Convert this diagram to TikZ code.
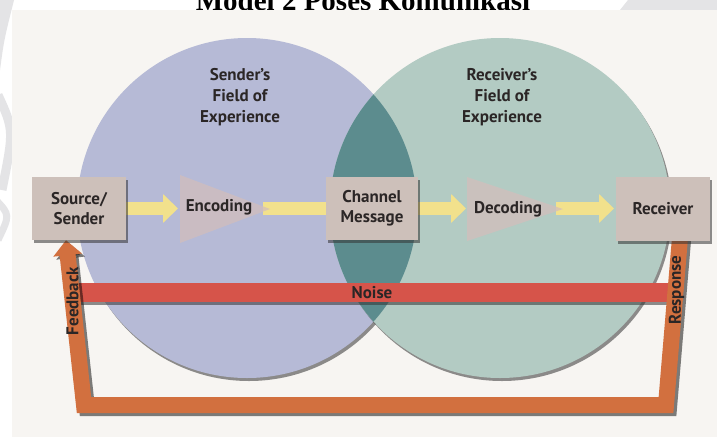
\documentclass[tikz,border=0pt]{standalone}
\usepackage{fontspec}
\setmainfont{PT Sans}
\newfontfamily\titlefont{Liberation Serif}
\usetikzlibrary{shadows,arrows.meta,calc}
\pgfdeclarelayer{fg}
\pgfsetlayers{main,fg}
\definecolor{pagebg}{HTML}{F7F5F2}
\definecolor{wmgray}{HTML}{E4E4E6}
\definecolor{lav}{HTML}{B6BAD6}
\definecolor{sage}{HTML}{B3CBC3}
\definecolor{lens}{HTML}{5C8C8E}
\definecolor{boxc}{HTML}{CDC0BA}
\definecolor{tric}{HTML}{D2BEBC}
\definecolor{yel}{HTML}{F2E18C}
\definecolor{noisered}{HTML}{D6544A}
\definecolor{loopor}{HTML}{D2703F}
\definecolor{txt}{HTML}{2B2626}
\tikzset{
  shad/.style={drop shadow={shadow xshift=2pt,shadow yshift=-3pt,opacity=.55,fill=black!80}},
  field/.style={circle,draw=none,inner sep=0pt,minimum size=340pt,shad},
  fieldtxt/.style={align=center,text=txt,font=\bfseries\fontsize{17}{21}\selectfont},
  box/.style={draw=none,fill=boxc,inner sep=0pt,align=center,text=txt,
    font=\bfseries\fontsize{17}{20}\selectfont,shad},
  lbl/.style={text=txt,font=\bfseries\fontsize{17}{20}\selectfont,inner sep=0pt},
  tri/.style={fill=tric,fill opacity=.75,draw=none},
  yarr/.style={draw=yel,line width=13pt},
  ytip/.style={-{Triangle[length=15pt,width=28pt]}},
  noisebar/.style={fill=noisered,draw=none,inner sep=0pt,shad},
  loopline/.style={draw=loopor,line width=16pt,line join=miter,
    -{Triangle[length=15pt,width=28pt]}},
  loopshadow/.style={draw=black,opacity=.5,line width=16pt,line join=miter,
    -{Triangle[length=15pt,width=28pt]}}
}
\begin{document}
\begin{tikzpicture}[x=1pt,y=-1pt]
\useasboundingbox (0,0) rectangle (717,437);
\clip (0,0) rectangle (717,437);
\fill[white] (0,0) rectangle (717,437);
% watermark remnants
\fill[wmgray] (628,0) -- (717,0) -- (717,10) -- (620,10) -- cycle;
\fill[wmgray] (0,0) -- (14,0) .. controls (4,40) .. (0,70) -- cycle;
\draw[wmgray,line width=9pt] (-2,95) .. controls (14,130) .. (2,190);
\draw[wmgray,line width=7pt] (-4,200) .. controls (10,215) .. (-2,240);
% title (cut off at top)
\node[anchor=base,inner sep=0pt,font=\titlefont\bfseries\fontsize{29}{30}\selectfont] (title) at (363,10) {Model 2 Poses Komunikasi};
% page
\fill[pagebg] (12,10) rectangle (717,437);
% fields
\node[field,fill=lav] (sfield) at (247,208) {};
\node[field,fill=sage] (rfield) at (500,208) {};
\begin{scope}
  \clip (sfield.center) circle (170);
  \fill[lens] (rfield.center) circle (170);
\end{scope}
\node[fieldtxt] (stxt) at (240,97) {Sender’s\\Field of\\Experience};
\node[fieldtxt] (rtxt) at (502,97) {Receiver’s\\Field of\\Experience};
% noise
\node[noisebar,minimum width=590pt,minimum height=19pt] (noise) at (374,292.5) {};
\node[lbl] (noisetxt) at (372,293) {Noise};
% boxes on the foreground layer
\begin{pgfonlayer}{fg}
\node[box,minimum width=94pt,minimum height=63pt] (src) at (79,208.5) {Source/\\Sender};
\node[box,minimum width=92pt,minimum height=63pt] (chan) at (372,208.5) {Channel\\Message};
\node[box,minimum width=94pt,minimum height=64pt] (rcv) at (663,208.5) {Receiver};
\end{pgfonlayer}
% feedback loop
\coordinate (rb) at (666,405);
\coordinate (lb) at (84,405);
\coordinate (rtop) at ([xshift=18pt,yshift=15pt]rcv.south);
\coordinate (ltip) at ([xshift=-13pt]src.south);
\draw[loopshadow,transform canvas={shift={(3pt,-3pt)}}] (rtop) -- (rb) -- (lb) -- (ltip);
\draw[loopline] (rtop) -- (rb) -- (lb) -- (ltip);
\node[lbl,rotate=90] (fb) at (72.5,301) {Feedback};
\node[lbl,rotate=90] (resp) at (676.5,290) {Response};
% yellow arrows
\coordinate (encL) at (178,208.5);
\coordinate (encR) at (263,208.5);
\coordinate (decL) at (466,208.5);
\coordinate (decR) at (556,208.5);
\coordinate (rcvL) at (614,208.5);
\draw[yarr,ytip] (src.east) -- (encL);
\draw[yarr] (encR) -- (chan.center);
\draw[yarr,ytip] (chan.east) -- (decL);
\draw[yarr,ytip] (decR) -- (rcvL);
% triangles
\path[tri] (180,175) -- (270,209) -- (180,243) -- cycle;
\path[tri] (467,177) -- (563,209) -- (467,241) -- cycle;
\node[lbl] (enc) at (219,207) {Encoding};
\node[lbl] (dec) at (508,209) {Decoding};
\end{tikzpicture}
\end{document}
